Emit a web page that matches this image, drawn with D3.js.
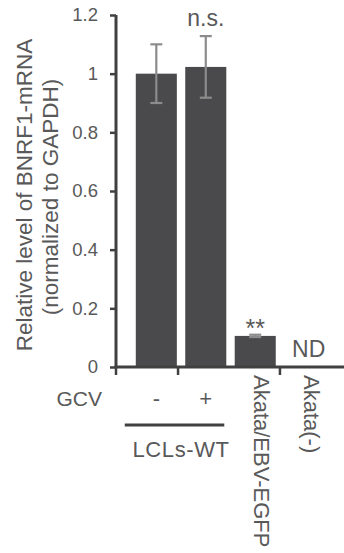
<!DOCTYPE html>
<html>
<head>
<meta charset="utf-8">
<script src="https://cdn.jsdelivr.net/npm/d3@7"></script>
<style>
  html, body { margin: 0; padding: 0; background: #fff; }
  svg { display: block; font-family: "Liberation Sans", Arial, sans-serif; }
</style>
</head>
<body>
<svg width="344" height="553"></svg>
<script>
// chart data
const categories = ["LCL GCV-", "LCL GCV+", "Akata/EBV-EGFP", "Akata(-)"];
const values = [1.0, 1.023, 0.106, 0];
const errors = [0.1, 0.105, 0.004, null];
const gcvLabels = ["-", "+", "", ""];
const rotatedLabels = ["", "", "Akata/EBV-EGFP", "Akata(-)"];
const marks = ["", "n.s.", "**", "ND"];
const yTicks = [0, 0.2, 0.4, 0.6, 0.8, 1, 1.2];

const width = 344, height = 553;
const svg = d3.select("svg");

const axisColor = "#404040";
const barColor = "#4a4a4c";
const errColor = "#8c8c8c";
const textColor = "#595959";

const x = d3.scaleBand()
    .domain(categories)
    .range([116, 345])
    .paddingInner(0.17)
    .paddingOuter(0.4);

const y = d3.scaleLinear()
    .domain([0, 1.2])
    .range([367, 15]);

// bars
svg.append("g")
    .selectAll("rect")
    .data(categories)
    .enter().append("rect")
    .attr("x", d => x(d))
    .attr("width", x.bandwidth())
    .attr("y", (d, i) => y(values[i]))
    .attr("height", (d, i) => y(0) - y(values[i]))
    .attr("fill", barColor);

// error bars
const eb = svg.append("g")
    .selectAll("g")
    .data(categories.filter((d, i) => errors[i] != null))
    .enter().append("g")
    .attr("stroke", errColor)
    .attr("stroke-width", 2.2);

eb.each(function(d) {
    const i = categories.indexOf(d);
    const cx = x(d) + x.bandwidth() / 2;
    const hi = y(values[i] + errors[i]), lo = y(values[i] - errors[i]);
    const g = d3.select(this);
    g.append("line").attr("x1", cx).attr("x2", cx).attr("y1", hi).attr("y2", lo);
    g.append("line").attr("x1", cx - 6).attr("x2", cx + 6).attr("y1", hi).attr("y2", hi);
    g.append("line").attr("x1", cx - 6).attr("x2", cx + 6).attr("y1", lo).attr("y2", lo);
});

// y axis
const yAxis = svg.append("g")
    .attr("transform", "translate(116,0)")
    .call(d3.axisLeft(y).tickValues(yTicks).tickSize(6).tickPadding(12)
        .tickFormat(d => String(+d.toFixed(1))));
yAxis.select(".domain").attr("stroke", axisColor).attr("stroke-width", 3)
    .attr("d", `M0,${y(1.2)}V${y(0)}`);
yAxis.selectAll(".tick line").attr("stroke", axisColor).attr("stroke-width", 2.5);
yAxis.selectAll(".tick text")
    .attr("fill", textColor)
    .style("font-size", "18.5px")
    .style("font-family", "Liberation Sans, Arial, sans-serif");

// x axis line
svg.append("line")
    .attr("x1", 114.5).attr("x2", width)
    .attr("y1", y(0)).attr("y2", y(0))
    .attr("stroke", axisColor).attr("stroke-width", 3);

// x axis group ticks
const step = x.step(), gap = step * x.paddingInner();
const tickXs = [116, x(categories[1]) - gap / 2 - 3, x(categories[3]) - gap / 2];
svg.append("g")
    .selectAll("line")
    .data(tickXs)
    .enter().append("line")
    .attr("x1", d => d).attr("x2", d => d)
    .attr("y1", y(0)).attr("y2", y(0) + 8)
    .attr("stroke", axisColor).attr("stroke-width", 2.5);

// annotations above bars
const markDy = { "n.s.": -10, "**": 2, "ND": -10 };
const markSize = { "n.s.": "23px", "**": "25px", "ND": "23px" };
svg.append("g")
    .selectAll("text")
    .data(categories)
    .enter().append("text")
    .attr("x", d => x(d) + x.bandwidth() / 2 + (marks[categories.indexOf(d)] === "ND" ? 4 : 0))
    .attr("y", (d, i) => {
        const top = values[i] + (errors[i] || 0);
        return y(top) + (markDy[marks[i]] || 0);
    })
    .attr("text-anchor", "middle")
    .attr("fill", textColor)
    .style("font-size", (d, i) => markSize[marks[i]] || "21px")
    .text((d, i) => marks[i]);

// GCV row
svg.append("text")
    .attr("x", 102).attr("y", 406)
    .attr("text-anchor", "end")
    .attr("fill", textColor)
    .style("font-size", "21px")
    .text("GCV");

svg.append("g")
    .selectAll("text")
    .data(categories.filter((d, i) => gcvLabels[i]))
    .enter().append("text")
    .attr("x", d => x(d) + x.bandwidth() / 2)
    .attr("y", 406)
    .attr("text-anchor", "middle")
    .attr("fill", textColor)
    .style("font-size", "22px")
    .text(d => gcvLabels[categories.indexOf(d)]);

// LCLs-WT bracket
svg.append("line")
    .attr("x1", x(categories[0]) - 11)
    .attr("x2", x(categories[1]) + x.bandwidth() - 2)
    .attr("y1", 425).attr("y2", 425)
    .attr("stroke", axisColor).attr("stroke-width", 3.2);

svg.append("text")
    .attr("x", (x(categories[0]) + x(categories[1]) + x.bandwidth()) / 2)
    .attr("y", 457)
    .attr("text-anchor", "middle")
    .attr("fill", textColor)
    .style("font-size", "22px")
    .style("letter-spacing", "0.6px")
    .text("LCLs-WT");

// rotated category labels
svg.append("g")
    .selectAll("text")
    .data(categories.filter((d, i) => rotatedLabels[i]))
    .enter().append("text")
    .attr("transform", d => `translate(${x(d) + x.bandwidth() / 2 - 1},375) rotate(90)`)
    .attr("fill", textColor)
    .style("font-size", "22px")
    .text(d => rotatedLabels[categories.indexOf(d)]);

// y axis title
const title = svg.append("text")
    .attr("transform", "translate(0,195) rotate(-90)")
    .attr("text-anchor", "middle")
    .attr("fill", textColor)
    .style("font-size", "22.5px");
title.append("tspan").attr("x", 0).attr("y", 32).text("Relative level of BNRF1-mRNA");
title.append("tspan").attr("x", -2).attr("y", 58).text("(normalized to GAPDH)");
</script>
</body>
</html>
